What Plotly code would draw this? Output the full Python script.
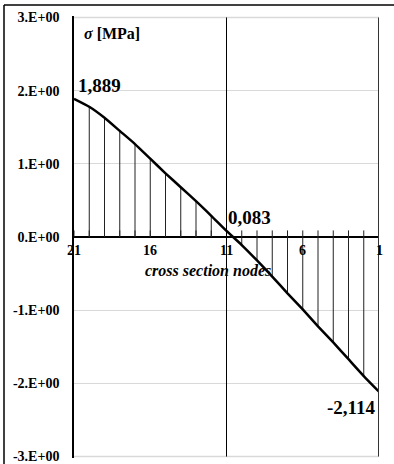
import plotly.graph_objects as go

# cross-section node numbers and stress values [MPa]
nodes = list(range(21, 0, -1))
sigma = [1.889, 1.78, 1.63, 1.45, 1.27, 1.07, 0.87, 0.68, 0.49, 0.29, 0.083,
         -0.11, -0.32, -0.54, -0.77, -0.99, -1.22, -1.44, -1.67, -1.90, -2.114]
x_tick_nodes = [21, 16, 11, 6, 1]
y_ticks = [3, 2, 1, 0, -1, -2, -3]
y_tick_text = ["3.E+00", "2.E+00", "1.E+00", "0.E+00", "-1.E+00", "-2.E+00", "-3.E+00"]
label_nodes = [21, 11, 1]
label_text = ["1,889", "0,083", "-2,114"]
mid_node = 11

SERIF = "Liberation Serif, Times New Roman, serif"

fig = go.Figure()

# hatching: vertical segments from zero to curve
hx, hy = [], []
for n, v in zip(nodes, sigma):
    if n in (nodes[0], nodes[-1]):
        continue
    hx += [n, n, None]
    hy += [0, v, None]
fig.add_trace(go.Scatter(x=hx, y=hy, mode="lines",
                         line=dict(color="#222222", width=1),
                         hoverinfo="skip", showlegend=False))

# small tick marks above zero line
tx, ty = [], []
for n in nodes:
    tx += [n, n, None]
    ty += [0, 0.09, None]
fig.add_trace(go.Scatter(x=tx, y=ty, mode="lines",
                         line=dict(color="#222222", width=1),
                         hoverinfo="skip", showlegend=False))

# stress curve
fig.add_trace(go.Scatter(x=nodes, y=sigma, mode="lines",
                         line=dict(color="black", width=2.5, shape="spline", smoothing=0.5),
                         showlegend=False))

# node tick labels on the zero line
for n in x_tick_nodes:
    fig.add_annotation(x=n, y=0, text=str(n), showarrow=False,
                       xanchor="center", yanchor="top", yshift=-4,
                       font=dict(family=SERIF, size=14, color="black", weight="bold"))

# data labels
lbl_val = {n: v for n, v in zip(nodes, sigma)}
anchors = {21: ("left", "bottom", 2, 1), 11: ("left", "bottom", -1, 1), 1: ("right", "top", -1, -3)}
for n, t in zip(label_nodes, label_text):
    xa, ya, xs, ys = anchors[n]
    fig.add_annotation(x=n, y=lbl_val[n], text=t, showarrow=False,
                       xanchor=xa, yanchor=ya, xshift=xs, yshift=ys,
                       font=dict(family=SERIF, size=19, color="black", weight="bold"))

# axis captions
fig.add_annotation(x=0.44, xref="paper", y=-0.46, yref="y", text="<b><i>cross section nodes</i></b>",
                   showarrow=False, xanchor="center", yanchor="middle",
                   font=dict(family=SERIF, size=16, color="black"))
fig.add_annotation(x=0.025, xref="paper", y=0.96, yref="paper", text="<b><i>σ</i> [MPa]</b>",
                   showarrow=False, xanchor="left", yanchor="middle",
                   font=dict(family=SERIF, size=16, color="black"))

# boundary gridlines (top and bottom of value range)
for yv in (y_ticks[0], y_ticks[-1]):
    fig.add_shape(type="line", x0=0, x1=1, y0=yv, y1=yv, xref="paper", yref="y",
                  line=dict(color="#d9d9d9", width=1.5), layer="below")

# vertical line at the middle node and right edge
fig.add_shape(type="line", x0=mid_node, x1=mid_node, y0=-3, y1=3, xref="x", yref="y",
              line=dict(color="black", width=1))
fig.add_shape(type="line", x0=nodes[-1], x1=nodes[-1], y0=-3, y1=3, xref="x", yref="y",
              line=dict(color="#333333", width=2))

# outer chart border (top and left visible)
fig.add_shape(type="line", x0=-0.2295, x1=1.2, y0=1.025, y1=1.025, xref="paper", yref="paper",
              line=dict(color="black", width=1.5))
fig.add_shape(type="line", x0=-0.2295, x1=-0.2295, y0=1.025, y1=-0.1, xref="paper", yref="paper",
              line=dict(color="black", width=1.5))

fig.update_layout(
    width=394, height=464,
    margin=dict(l=74, r=15, t=16, b=6, autoexpand=False),
    paper_bgcolor="white", plot_bgcolor="white",
    xaxis=dict(range=[nodes[0], nodes[-1]], showgrid=False, showticklabels=False,
               zeroline=False, showline=False, ticks="", automargin=False),
    yaxis=dict(range=[-3.02, 3.02], tickvals=y_ticks, ticktext=y_tick_text,
               showgrid=True, gridcolor="#d9d9d9", gridwidth=1,
               zeroline=True, zerolinecolor="black", zerolinewidth=1.5,
               showline=True, linecolor="black", linewidth=1.5, automargin=False,
               ticks="", ticklabelstandoff=10, ticklabeloverflow="allow",
               tickfont=dict(family=SERIF, size=14, color="black", weight="bold")),
)

fig.write_html("out.html")
